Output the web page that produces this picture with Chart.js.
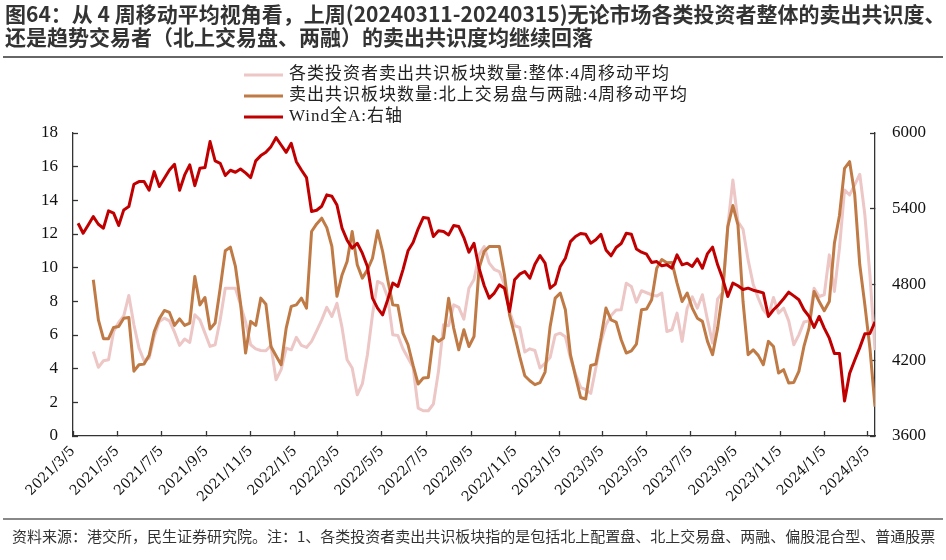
<!DOCTYPE html>
<html>
<head>
<meta charset="utf-8">
<script src="https://cdn.jsdelivr.net/npm/chart.js@4.4.1/dist/chart.umd.min.js"></script>
<style>
  html, body { margin: 0; padding: 0; background: #fff; }
  #wrap { position: relative; width: 946px; height: 560px; overflow: hidden; }
  #title { position: absolute; left: 5px; top: 2px; font: bold 21px "Noto Sans CJK SC", sans-serif; line-height: 23px; color: #333; white-space: nowrap; }
  #topRule { position: absolute; left: 3px; width: 940px; top: 56px; height: 2px; background: #666; }
  #bottomRule { position: absolute; left: 3px; width: 940px; top: 518px; height: 2px; background: #888; }
  #source { position: absolute; left: 12px; top: 525px; font: 15px "Noto Sans CJK SC", sans-serif; color: #333; white-space: nowrap; }
  canvas { position: absolute; left: 0; top: 0; }
</style>
</head>
<body>
<div id="wrap">
  <canvas id="chart" width="946" height="560"></canvas>
  <div id="title">图64：从 4 周移动平均视角看，上周(20240311-20240315)无论市场各类投资者整体的卖出共识度、<br>还是趋势交易者（北上交易盘、两融）的卖出共识度均继续回落</div>
  <div id="topRule"></div>
  <div id="bottomRule"></div>
  <div id="source">资料来源：港交所，民生证券研究院。注：1、各类投资者卖出共识板块指的是包括北上配置盘、北上交易盘、两融、偏股混合型、普通股票</div>
</div>
<script>
// x axis: 2021/3/5 .. 2024/3/15, weekly points (Fridays) from 2021/3/12
const axisStart = '2021/3/5';
const axisEnd = '2024/3/15';
const firstWeek = '2021/3/12';
const weekCount = 158;
const tickLabels = ['2021/3/5', '2021/5/5', '2021/7/5', '2021/9/5', '2021/11/5', '2022/1/5', '2022/3/5',
  '2022/5/5', '2022/7/5', '2022/9/5', '2022/11/5', '2023/1/5', '2023/3/5', '2023/5/5', '2023/7/5',
  '2023/9/5', '2023/11/5', '2024/1/5', '2024/3/5'];

const seriesNames = ['各类投资者卖出共识板块数量:整体:4周移动平均', '卖出共识板块数量:北上交易盘与两融:4周移动平均', 'Wind全A:右轴'];

// 整体 4周移动平均 (left axis)
const overallAvg = [null, null, null,
  5.02, 4.08, 4.47, 4.53, 6.21, 6.75, 7.14, 8.35, 6.61, 5.22,
  4.47, 4.63, 5.91, 6.81, 7.00, 6.84, 6.17, 5.38, 5.76, 5.56,
  7.20, 6.90, 6.11, 5.32, 5.42, 6.90, 8.78, 8.78, 8.78, 7.79,
  6.77, 5.42, 5.18, 5.08, 5.06, 5.38, 3.34, 3.94, 5.22, 5.12,
  5.86, 5.38, 5.26, 5.62, 6.25, 6.90, 7.64, 7.10, 7.89, 6.45,
  4.53, 4.04, 2.45, 3.09, 4.83, 7.20, 9.18, 9.04, 8.23, 6.01,
  5.97, 5.18, 4.63, 4.08, 1.66, 1.50, 1.50, 1.90, 3.84, 6.61,
  6.55, 7.79, 7.64, 6.94, 8.78, 9.30, 10.76, 11.26, 10.27, 9.89,
  9.77, 8.98, 7.40, 6.55, 6.45, 4.99, 5.18, 5.08, 4.04, 4.31,
  4.67, 6.01, 6.11, 5.90, 4.63, 3.68, 2.89, 2.75, 2.53, 4.04,
  5.58, 6.61, 7.16, 7.48, 7.50, 9.08, 8.88, 7.95, 8.63, 8.51,
  8.39, 8.31, 8.49, 6.21, 6.31, 7.30, 5.62, 7.60, 8.27, 7.60,
  8.39, 6.90, 5.52, 8.15, 8.53, 12.44, 15.21, 12.74, 12.28, 10.46,
  9.02, 8.19, 7.48, 7.14, 8.23, 7.30, 7.60, 6.84, 5.42, 6.01,
  6.77, 6.84, 8.78, 8.29, 8.39, 10.76, 8.59, 11.16, 14.62, 14.32,
  14.92, 15.55, 13.14, 9.57, 5.10];

// 北上交易盘与两融 4周移动平均 (left axis)
const tradingAvg = [null, null, null,
  9.28, 6.90, 5.78, 5.78, 6.45, 6.51, 7.00, 7.04, 3.85, 4.23,
  4.27, 4.79, 6.21, 6.96, 7.46, 7.34, 6.57, 6.96, 6.57, 6.71,
  9.48, 7.79, 8.23, 6.35, 6.71, 8.78, 11.00, 11.22, 10.07, 7.89,
  4.93, 6.81, 6.57, 8.19, 7.83, 5.32, 4.77, 4.23, 6.41, 7.70,
  7.79, 8.19, 7.60, 12.15, 12.60, 12.94, 12.38, 11.26, 8.30, 9.57,
  10.37, 12.15, 10.17, 9.38, 9.87, 10.56, 12.19, 10.96, 9.28, 7.79,
  7.75, 6.11, 5.42, 4.19, 3.09, 3.44, 3.48, 5.91, 5.62, 5.82,
  8.19, 6.41, 5.12, 6.31, 5.32, 5.91, 9.97, 10.96, 11.26, 11.26,
  11.26, 9.57, 7.20, 6.01, 4.73, 3.58, 3.28, 3.05, 3.17, 3.80,
  6.51, 8.19, 8.49, 7.50, 4.83, 3.54, 2.29, 2.20, 4.19, 4.27,
  5.82, 7.60, 6.90, 6.77, 5.72, 4.93, 5.06, 5.46, 7.50, 7.54,
  8.09, 9.97, 10.48, 10.29, 10.31, 9.08, 7.99, 8.49, 7.60, 7.00,
  6.81, 5.62, 4.83, 6.41, 8.59, 12.44, 13.69, 12.54, 7.99, 4.83,
  5.12, 4.79, 4.23, 5.62, 5.32, 3.74, 3.94, 3.15, 3.18, 3.84,
  5.32, 6.41, 8.59, 7.99, 7.44, 7.99, 11.45, 13.10, 15.90, 16.30,
  14.36, 10.17, 7.79, 5.22, 1.74];

// Wind全A (right axis)
const windA = [
  5285, 5206, 5272, 5338, 5277, 5246, 5383, 5365, 5267, 5391,
  5417, 5594, 5615, 5615, 5547, 5694, 5576, 5642, 5707, 5752,
  5547, 5668, 5747, 5583, 5721, 5726, 5932, 5779, 5760, 5663,
  5705, 5689, 5715, 5684, 5647, 5779, 5821, 5847, 5892, 5963,
  5905, 5847, 5918, 5773, 5707, 5647, 5378, 5388, 5420, 5510,
  5499, 5430, 5246, 5151, 5088, 5127, 5048, 4943, 4692, 4613,
  4560, 4679, 4811, 4784, 4916, 5067, 5132, 5241, 5330, 5325,
  5180, 5225, 5220, 5193, 5267, 5259, 5172, 5056, 5127, 4929,
  4792, 4692, 4732, 4797, 4771, 4586, 4837, 4882, 4903, 4850,
  4961, 5030, 4969, 4771, 4803, 4943, 5008, 5140, 5180, 5204,
  5198, 5127, 5154, 5198, 5074, 5027, 5093, 5125, 5206, 5198,
  5082, 5056, 5040, 4974, 4982, 4948, 4956, 4929, 5035, 4956,
  4969, 4943, 5003, 4929, 5045, 5096, 4956, 4845, 4705, 4811,
  4790, 4761, 4771, 4755, 4745, 4734, 4547, 4600, 4639, 4687,
  4739, 4710, 4679, 4600, 4547, 4460, 4547, 4455, 4375, 4254,
  4254, 3877, 4096, 4200, 4300, 4410, 4412, 4504];

const leftTicks = { min: 0, max: 18, step: 2 };
const rightTicks = { min: 3600, max: 6000, step: 600 };

function tage(text) {
  const [j, m, t] = text.split('/').map(Number);
  return (Date.UTC(j, m - 1, t) - Date.UTC(2021, 2, 5)) / 86400000;
}

const wochen = [];
for (let i = 0; i < weekCount; i++) wochen.push(tage(firstWeek) + i * 7);
const tickTage = tickLabels.map(tage);

function punkte(werte) {
  return wochen.map((x, i) => ({ x: x, y: werte[i] }));
}

const schrift = '"Liberation Serif", "Noto Sans CJK SC", serif';

const legende = {
  id: 'legende',
  afterDraw(chart) {
    const ctx = chart.ctx;
    ctx.save();
    ctx.font = '17px ' + schrift;
    ctx.textBaseline = 'middle';
    ctx.letterSpacing = '1px';
    seriesNames.forEach((name, i) => {
      const ds = chart.data.datasets.find(d => d.label === name);
      const y = 75 + i * 21;
      ctx.strokeStyle = ds.borderColor;
      ctx.lineWidth = 3;
      ctx.beginPath();
      ctx.moveTo(244, y);
      ctx.lineTo(283, y);
      ctx.stroke();
      ctx.fillStyle = '#222';
      ctx.fillText(name, 289, y);
    });
    ctx.restore();
  }
};

Chart.defaults.font.family = schrift;
Chart.defaults.color = '#111';

const diagramm = new Chart(document.getElementById('chart').getContext('2d'), {
  type: 'line',
  data: {
    datasets: [
      { label: seriesNames[2], data: punkte(windA), yAxisID: 'y2', borderColor: '#C00000', borderWidth: 3, order: 0 },
      { label: seriesNames[1], data: punkte(tradingAvg), yAxisID: 'y', borderColor: '#BF7A45', borderWidth: 3, order: 1 },
      { label: seriesNames[0], data: punkte(overallAvg), yAxisID: 'y', borderColor: '#EDC6C6', borderWidth: 3, order: 2 }
    ]
  },
  options: {
    responsive: false,
    animation: false,
    devicePixelRatio: 1,
    layout: { padding: { top: 133, left: 0, right: 0, bottom: 0 } },
    elements: { point: { radius: 0 }, line: { tension: 0, borderJoinStyle: 'round' } },
    plugins: { legend: { display: false }, tooltip: { enabled: false } },
    scales: {
      x: {
        type: 'linear',
        min: tage(axisStart),
        max: tage(axisEnd),
        afterBuildTicks: s => { s.ticks = tickTage.map(v => ({ value: v })); },
        afterFit: s => { s.height = 124; },
        ticks: {
          autoSkip: false,
          maxRotation: 45,
          minRotation: 45,
          padding: 12,
          font: { family: '"DejaVu Serif", serif', size: 14 },
          color: '#111',
          callback: v => tickLabels[tickTage.indexOf(v)]
        },
        grid: { drawOnChartArea: false, tickLength: -5, tickColor: '#333', tickWidth: 1.3 },
        border: { color: '#333', width: 1.3 }
      },
      y: {
        position: 'left',
        min: leftTicks.min,
        max: leftTicks.max,
        afterFit: s => { s.width = 73; },
        ticks: { stepSize: leftTicks.step, padding: 20, font: { size: 17 }, color: '#111', callback: v => String(v) },
        grid: { drawOnChartArea: false, tickLength: -5, tickColor: '#333', tickWidth: 1.3 },
        border: { color: '#333', width: 1.3 }
      },
      y2: {
        position: 'right',
        min: rightTicks.min,
        max: rightTicks.max,
        afterFit: s => { s.width = 71; },
        ticks: { stepSize: rightTicks.step, padding: 22, font: { size: 17 }, color: '#111', callback: v => String(v) },
        grid: { drawOnChartArea: false, tickLength: -5, tickColor: '#333', tickWidth: 1.3 },
        border: { color: '#333', width: 1.3 }
      }
    }
  },
  plugins: [legende]
});
</script>
</body>
</html>
